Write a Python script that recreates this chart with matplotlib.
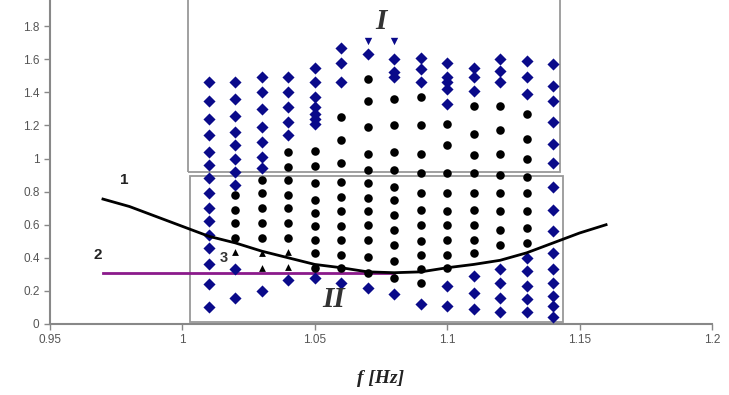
import matplotlib
matplotlib.use("Agg")
import matplotlib.pyplot as plt
from matplotlib.patches import Rectangle

# ── data ────────────────────────────────────────────────────────────────────
f_cols = [1.01, 1.02, 1.03, 1.04, 1.05, 1.06, 1.07,
          1.08, 1.09, 1.10, 1.11, 1.12, 1.13, 1.14]

# blue diamonds per column (top to bottom)
blue_y = [
    [1.46, 1.35, 1.24, 1.14, 1.04, 0.96, 0.88, 0.79, 0.70, 0.62, 0.54, 0.46, 0.36, 0.24, 0.10],
    [1.46, 1.36, 1.26, 1.16, 1.08, 1.00, 0.92, 0.84, 0.33, 0.16],
    [1.49, 1.40, 1.30, 1.19, 1.10, 1.01, 0.94, 0.20],
    [1.49, 1.40, 1.31, 1.22, 1.14, 0.265],
    [1.55, 1.46, 1.37, 1.31, 1.27, 1.24, 1.21, 0.28],
    [1.67, 1.58, 1.46, 0.25],
    [1.63, 0.22],
    [1.60, 1.52, 1.49, 0.18],
    [1.61, 1.54, 1.46, 0.12],
    [1.58, 1.49, 1.46, 1.42, 1.33, 0.23, 0.11],
    [1.55, 1.49, 1.41, 0.29, 0.19, 0.09],
    [1.60, 1.53, 1.46, 0.33, 0.25, 0.16, 0.07],
    [1.59, 1.49, 1.39, 0.40, 0.32, 0.23, 0.15, 0.07],
    [1.57, 1.44, 1.35, 1.22, 1.09, 0.97, 0.83, 0.69, 0.56, 0.43, 0.33, 0.25, 0.17, 0.11, 0.04],
]

# half-hidden markers under the "I" label
cut_f = [1.07, 1.08]
cut_y = [1.71, 1.71]

# black dots per column
black_y = [
    [],
    [0.78, 0.69, 0.61, 0.52],
    [0.87, 0.79, 0.70, 0.61, 0.52],
    [1.04, 0.95, 0.87, 0.78, 0.70, 0.61, 0.52],
    [1.045, 0.955, 0.85, 0.75, 0.67, 0.59, 0.51, 0.43, 0.34],
    [1.25, 1.11, 0.97, 0.86, 0.77, 0.68, 0.59, 0.51, 0.42, 0.34],
    [1.48, 1.35, 1.19, 1.03, 0.93, 0.85, 0.76, 0.68, 0.60, 0.51, 0.405, 0.31],
    [1.36, 1.20, 1.04, 0.93, 0.83, 0.75, 0.66, 0.57, 0.48, 0.38, 0.28],
    [1.37, 1.20, 1.03, 0.91, 0.79, 0.69, 0.60, 0.50, 0.42, 0.33, 0.25],
    [1.21, 1.08, 0.91, 0.79, 0.68, 0.60, 0.51, 0.42, 0.34],
    [1.32, 1.15, 1.02, 0.91, 0.79, 0.69, 0.60, 0.51, 0.43],
    [1.32, 1.17, 1.03, 0.90, 0.79, 0.68, 0.57, 0.48],
    [1.27, 1.12, 1.00, 0.89, 0.79, 0.68, 0.58, 0.49],
    [],
]

# small triangles (marker set 3)
tri_f = [1.02, 1.03, 1.03, 1.04, 1.04]
tri_y = [0.435, 0.43, 0.34, 0.435, 0.345]

# curve 1
curve_f = [0.97, 0.98, 0.99, 1.00, 1.01, 1.02, 1.03, 1.04, 1.05, 1.06, 1.07,
           1.08, 1.09, 1.10, 1.11, 1.12, 1.13, 1.14, 1.15, 1.16]
curve_y = [0.755, 0.71, 0.65, 0.59, 0.53, 0.49, 0.44, 0.40, 0.36, 0.34, 0.315,
           0.31, 0.315, 0.34, 0.36, 0.385, 0.43, 0.49, 0.55, 0.60]

# line 2
line2_f = [0.97, 1.08]
line2_y = [0.31, 0.31]

x_ticks = [0.95, 1.0, 1.05, 1.1, 1.15, 1.2]
x_labels = ["0.95", "1", "1.05", "1.1", "1.15", "1.2"]
y_ticks = [0, 0.2, 0.4, 0.6, 0.8, 1.0, 1.2, 1.4, 1.6, 1.8]
y_labels = ["0", "0.2", "0.4", "0.6", "0.8", "1", "1.2", "1.4", "1.6", "1.8"]

# ── flatten columns ─────────────────────────────────────────────────────────
bx, by, kx, ky = [], [], [], []
for f, bl, bk in zip(f_cols, blue_y, black_y):
    bx += [f] * len(bl)
    by += bl
    kx += [f] * len(bk)
    ky += bk

# ── plot ─────────────────────────────────────────────────────────────────────
fig = plt.figure(figsize=(7.29, 3.95), dpi=100)
ax = fig.add_axes([50 / 729, 1 - 324 / 395, 662 / 729, 324 / 395])

navy = "#0a0a8a"
ax.plot(line2_f, line2_y, color="#8b1a8b", lw=2.0, zorder=2)
ax.scatter(bx, by, marker="D", s=38, color=navy, linewidths=0, zorder=3)
ax.scatter(cut_f, cut_y, marker="v", s=28, color=navy, linewidths=0, zorder=3)
ax.scatter(kx, ky, marker="o", s=38, color="black", linewidths=0, zorder=3)
ax.scatter(tri_f, tri_y, marker="^", s=24, color="black", linewidths=0, zorder=3)
ax.plot(curve_f, curve_y, color="black", lw=2.0, zorder=4)

# region boxes
ax.add_patch(Rectangle((1.002, 0.92), 0.1406, 1.2, fill=False,
                       edgecolor="#999999", lw=1.3, zorder=1))
ax.add_patch(Rectangle((1.003, 0.014), 0.1407, 0.882, fill=False,
                       edgecolor="#999999", lw=1.3, zorder=1))

serif = ["Liberation Serif", "DejaVu Serif"]
ax.text(1.075, 1.83, "I", family=serif, fontsize=21, fontweight="bold",
        fontstyle="italic", color="#333333", ha="center", va="center", zorder=5)
ax.text(1.057, 0.15, "II", family=serif, fontsize=21, fontweight="bold",
        fontstyle="italic", color="#333333", ha="center", va="center", zorder=5)
ax.text(0.978, 0.87, "1", fontsize=11, fontweight="bold", color="#222222",
        ha="center", va="center", family=["Liberation Sans", "DejaVu Sans"])
ax.text(0.968, 0.42, "2", fontsize=11, fontweight="bold", color="#222222",
        ha="center", va="center", family=["Liberation Sans", "DejaVu Sans"])
ax.text(1.0155, 0.40, "3", fontsize=10.5, fontweight="bold", color="#333333",
        ha="center", va="center", family=["Liberation Sans", "DejaVu Sans"])

ax.set_xlim(0.95, 1.2)
ax.set_ylim(0, 1.958)
ax.set_xticks(x_ticks)
ax.set_xticklabels(x_labels)
ax.set_yticks(y_ticks)
ax.set_yticklabels(y_labels)
ax.tick_params(direction="out", length=4, width=1, color="#888888",
               labelcolor="#555555", labelsize=8.5)
for lab in ax.get_xticklabels() + ax.get_yticklabels():
    lab.set_family(["Liberation Sans", "DejaVu Sans"])

for side in ["top", "right"]:
    ax.spines[side].set_visible(False)
for side in ["left", "bottom"]:
    ax.spines[side].set_color("#888888")
    ax.spines[side].set_linewidth(1.5)

ax.set_xlabel("f [Hz]", family=serif, fontsize=14, fontweight="bold",
              fontstyle="italic", color="#222222", labelpad=17)

fig.savefig("out.png", dpi=100)
